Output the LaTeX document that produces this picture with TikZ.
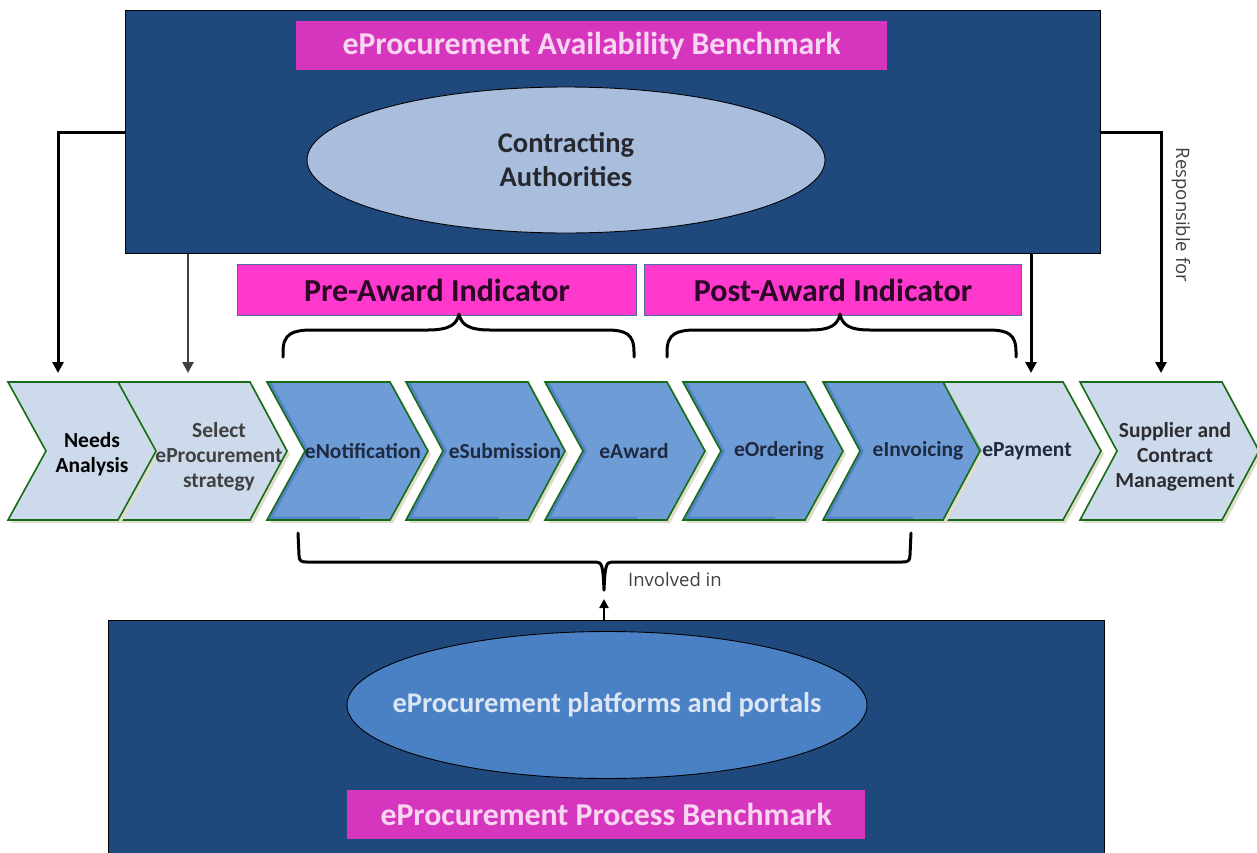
\documentclass[tikz,border=0pt]{standalone}
\usepackage{fontspec}
\setmainfont{Carlito}
\newfontfamily\osans{Open Sans}
\usetikzlibrary{arrows.meta,shapes.geometric}
\definecolor{navy}{RGB}{31,73,125}
\definecolor{magtop}{RGB}{214,53,190}
\definecolor{magtxt}{RGB}{248,214,242}
\definecolor{magind}{RGB}{255,56,206}
\definecolor{magborder}{RGB}{79,109,158}
\definecolor{magindtxt}{RGB}{43,8,38}
\definecolor{ellA}{RGB}{169,190,221}
\definecolor{ellB}{RGB}{74,128,196}
\definecolor{ellBtxt}{RGB}{220,230,244}
\definecolor{chevlight}{RGB}{204,218,236}
\definecolor{chevdark}{RGB}{110,156,214}
\definecolor{chevedge}{RGB}{84,132,200}
\definecolor{chevgreen}{RGB}{22,108,22}
\definecolor{shadowc}{RGB}{224,220,204}
\definecolor{chevtxt}{RGB}{31,42,64}
\definecolor{graytxt}{RGB}{64,64,64}
\newcommand\chevshape[4]{%
  \fill[shadowc] (#1+3,385) -- (#2+3,385) -- (#2+#4+3,454) -- (#2+3,523) -- (#1+3,523) -- (#1+#4+3,454) -- cycle;
  \fill[#3] (#1,382) -- (#2,382) -- (#2+#4,451) -- (#2,520) -- (#1,520) -- (#1+#4,451) -- cycle;
}
\newcommand\chevborder[3]{%
  \draw[chevgreen, line width=1.6pt, line join=miter] (#1,382) -- (#2,382) -- (#2+#3,451) -- (#2,520) -- (#1,520) -- (#1+#3,451) -- cycle;
}
\newcommand\chevedgeshade[3]{%
  \begin{scope}
    \clip (#1,382) -- (#2,382) -- (#2+#3,451) -- (#2,520) -- (#1,520) -- (#1+#3,451) -- cycle;
    \draw[chevedge, line width=7pt] (#1,382) -- (#1+#3,451) -- (#1,520) -- (#2-30,520);
  \end{scope}
}
\tikzset{
  bigbox/.style={draw=black, line width=1.2pt, fill=navy, inner sep=0pt, anchor=north west},
  magbox/.style={fill=magtop, text=magtxt, inner sep=0pt, anchor=north west,
    font=\fontsize{31.8}{38}\selectfont\bfseries},
  indbox/.style={fill=magind, draw=magborder, line width=1pt, text=magindtxt, inner sep=0pt, anchor=north west,
    font=\fontsize{32}{38}\selectfont\bfseries},
  ell/.style={ellipse, draw=black, line width=0.9pt, inner sep=0pt},
  elltxt/.style={align=center, inner sep=0pt, font=\fontsize{28.5}{34}\selectfont\bfseries},
  chevlabel/.style={align=center, text=chevtxt, inner sep=0pt, font=\fontsize{21.5}{25}\selectfont\bfseries},
  arr/.style={line width=3pt, -{Triangle[length=11pt,width=11pt]}},
  garr/.style={line width=2.6pt, draw=graytxt, -{Triangle[length=11pt,width=11pt]}, color=graytxt},
  brace/.style={line width=3pt, line cap=round, line join=round},
  smalltxt/.style={text=graytxt, inner sep=0pt, font=\osans\fontsize{18.5}{22}\selectfont},
}
\begin{document}
\begin{tikzpicture}[x=1pt,y=-1pt]
\useasboundingbox (0,0) rectangle (1257,852);

% top and bottom boxes
\node[bigbox, minimum width=975pt, minimum height=243pt] (topbox) at (125,10) {};
\node[magbox, minimum width=591pt, minimum height=49pt] (avail) at (296,21) {eProcurement Availability Benchmark};
\node[ell, fill=ellA, minimum width=518pt, minimum height=146pt] (ca) at (566,160) {};
\node[elltxt, text={rgb,255:red,38;green,40;blue,46}] (catxt) at (ca.center) {Contracting\\Authorities};

\node[bigbox, minimum width=996pt, minimum height=260pt] (botbox) at (108,620) {};
\node[ell, fill=ellB, minimum width=520pt, minimum height=147pt] (plat) at (607,705) {};
\node[elltxt, text=ellBtxt] (plattxt) at (plat.center) {eProcurement platforms and portals};
\node[magbox, minimum width=518pt, minimum height=49pt] (process) at (347,790) {eProcurement Process Benchmark};

% indicators
\node[indbox, minimum width=399pt, minimum height=51pt] (pre) at (237,264) {Pre-Award Indicator};
\node[indbox, minimum width=377pt, minimum height=51pt] (post) at (644,264) {Post-Award Indicator};

% chevrons (right to left so tips overlap)
\chevshape{1080}{1222}{chevlight}{37}
\chevborder{1080}{1222}{37}
\chevshape{943}{1063}{chevlight}{38}
\chevborder{943}{1063}{38}
\chevshape{823}{943}{chevdark}{37}
\chevedgeshade{823}{943}{37}
\chevborder{823}{943}{37}
\chevshape{683}{805}{chevdark}{38}
\chevedgeshade{683}{805}{38}
\chevborder{683}{805}{38}
\chevshape{545}{667}{chevdark}{38}
\chevedgeshade{545}{667}{38}
\chevborder{545}{667}{38}
\chevshape{406}{528}{chevdark}{37}
\chevedgeshade{406}{528}{37}
\chevborder{406}{528}{37}
\chevshape{267}{390}{chevdark}{38}
\chevedgeshade{267}{390}{38}
\chevborder{267}{390}{38}
\chevshape{118}{250}{chevlight}{37}
\chevborder{118}{250}{37}
\chevshape{8}{118}{chevlight}{38}
\chevborder{8}{118}{38}

\node[chevlabel, text=black] (c1) at (92,454) {Needs\\Analysis};
\node[chevlabel, text=graytxt] (c2) at (219,457) {Select\\eProcurement\\strategy};
\node[chevlabel] (c3) at (363,451) {eNotification};
\node[chevlabel] (c4) at (505,451) {eSubmission};
\node[chevlabel] (c5) at (634,451) {eAward};
\node[chevlabel] (c6) at (779,451) {eOrdering};
\node[chevlabel] (c7) at (918,451) {eInvoicing};
\node[chevlabel] (c8) at (1027,451) {ePayment};
\node[chevlabel, text={rgb,255:red,45;green,45;blue,50}] (c9) at (1175,457) {Supplier and\\Contract\\Management};

% arrow targets
\coordinate (t1) at (58,373);
\coordinate (t2) at (188,373);
\coordinate (t8) at (1031,373);
\coordinate (t9) at (1161,373);
\coordinate (b0) at (604,599);

\draw[arr] (topbox.west) -| (t1);
\draw[garr] (topbox.south -| t2) -- (t2);
\draw[arr] (topbox.south -| t8) -- (t8);
\draw[arr] (topbox.east) -| (t9);
\node[smalltxt, rotate=-90] (resp) at (1181,215) {Responsible for};

% braces
\draw[brace] (283,357) -- (283,352) .. controls (283,334) and (292,330) .. (312,330) -- (428,330) .. controls (450,330) and (457,324) .. (459,314) .. controls (461,324) and (468,330) .. (490,330) -- (606,330) .. controls (626,330) and (634,334) .. (634,352) -- (634,357);
\draw[brace] (667,357) -- (667,352) .. controls (667,334) and (676,330) .. (696,330) -- (810,330) .. controls (832,330) and (838,324) .. (840,314) .. controls (842,324) and (848,330) .. (870,330) -- (988,330) .. controls (1008,330) and (1016,334) .. (1016,352) -- (1016,357);
\draw[brace] (298,533) -- (299,555) .. controls (299,561) and (301,562) .. (307,562) -- (596,562) .. controls (602,562) and (603,566) .. (604,590) .. controls (605,566) and (606,562) .. (612,562) -- (902,562) .. controls (908,562) and (910,561) .. (910,555) -- (911,533);
\draw[arr, line width=2.2pt, -{Triangle[length=9pt,width=9pt]}] (botbox.north -| b0) -- (b0);
\node[smalltxt, anchor=west] (inv) at (628,580) {Involved in};
\end{tikzpicture}
\end{document}
